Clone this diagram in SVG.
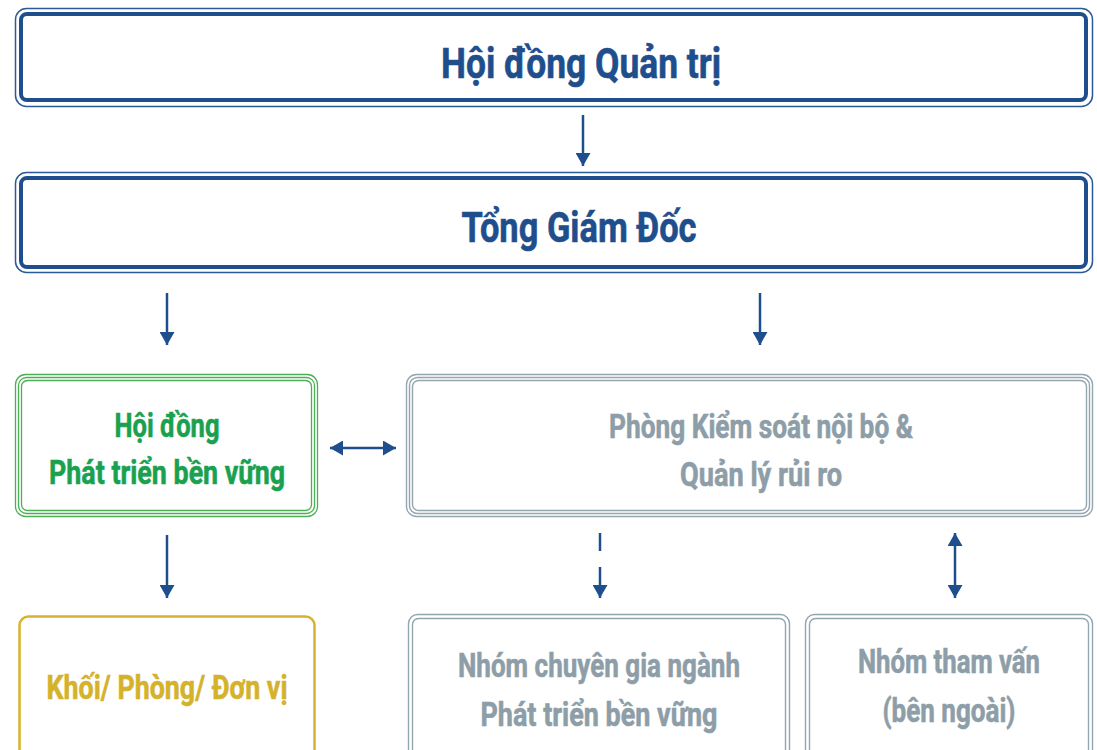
<svg xmlns="http://www.w3.org/2000/svg" width="1097" height="750" viewBox="0 0 1097 750">
<style>
text{font-family:"Roboto","Liberation Sans",sans-serif;font-weight:bold;text-anchor:middle;stroke-width:0.6}
.blue{fill:#1f4e8c;stroke:#1f4e8c}
.green{fill:#1aa150;stroke:#1aa150}
.gray{fill:#8d9ea8;stroke:#8d9ea8}
.yellow{fill:#d5b22c;stroke:#d5b22c}
.bthin{fill:none;stroke:#2a5a98;stroke-width:1.5}
.bthick{fill:none;stroke:#1f4e8c;stroke-width:4}
.gline{fill:none;stroke:#4cae55;stroke-width:1.3}
.sline{fill:none;stroke:#93a5af;stroke-width:1.4}
.conn{stroke:#1f4e8c;stroke-width:2.5;fill:none}
</style>
<defs>
<marker id="ah" viewBox="0 0 13 15" refX="13" refY="7.5" markerWidth="13" markerHeight="15" markerUnits="userSpaceOnUse" orient="auto-start-reverse">
<path d="M0,0 L13,7.5 L0,15 Z" fill="#1f4e8c"/>
</marker>
</defs>
<rect width="1097" height="750" fill="#fff"/>
<g id="hdqt">
<rect class="bthin" x="15.5" y="8.5" width="1077" height="98" rx="11"/>
<rect class="bthick" x="21" y="14" width="1065" height="86" rx="6"/>
<text class="blue" x="581" y="78" font-size="43" textLength="280" lengthAdjust="spacingAndGlyphs">Hội đồng Quản trị</text>
</g>
<g id="tgd">
<rect class="bthin" x="15.5" y="172.5" width="1077" height="100" rx="11"/>
<rect class="bthick" x="21" y="178" width="1065" height="89" rx="6"/>
<text class="blue" x="579" y="242" font-size="43" textLength="235" lengthAdjust="spacingAndGlyphs">Tổng Giám Đốc</text>
</g>
<g id="hdptbv">
<rect class="gline" x="15.5" y="374.5" width="302" height="142" rx="10"/>
<rect class="gline" x="18.5" y="377.5" width="296" height="136" rx="8"/>
<rect class="gline" x="21.5" y="380.5" width="290" height="130" rx="6"/>
<text class="green" x="167" y="437" font-size="34" textLength="105" lengthAdjust="spacingAndGlyphs">Hội đồng</text>
<text class="green" x="167" y="484" font-size="34" textLength="236" lengthAdjust="spacingAndGlyphs">Phát triển bền vững</text>
</g>
<g id="pksnb">
<rect class="sline" x="406.5" y="374.5" width="686" height="142" rx="10"/>
<rect class="sline" x="409.5" y="377.5" width="680" height="136" rx="8"/>
<rect class="sline" x="412.5" y="380.5" width="674" height="130" rx="6"/>
<text class="gray" x="761" y="438" font-size="33" textLength="304" lengthAdjust="spacingAndGlyphs">Phòng Kiểm soát nội bộ &amp;</text>
<text class="gray" x="761" y="486" font-size="33" textLength="162" lengthAdjust="spacingAndGlyphs">Quản lý rủi ro</text>
</g>
<g id="khoi">
<rect x="19.5" y="616.5" width="295" height="145" rx="9" fill="none" stroke="#d6b32e" stroke-width="2.5"/>
<text class="yellow" x="167" y="699" font-size="34" textLength="241" lengthAdjust="spacingAndGlyphs">Khối/ Phòng/ Đơn vị</text>
</g>
<g id="ncg">
<rect class="sline" x="408.5" y="614.5" width="381" height="145" rx="9"/>
<rect class="sline" x="412.5" y="618.5" width="373" height="137" rx="6"/>
<text class="gray" x="599" y="677" font-size="33" textLength="282" lengthAdjust="spacingAndGlyphs">Nhóm chuyên gia ngành</text>
<text class="gray" x="599" y="726" font-size="33" textLength="237" lengthAdjust="spacingAndGlyphs">Phát triển bền vững</text>
</g>
<g id="ntv">
<rect class="sline" x="805.5" y="614.5" width="287" height="145" rx="9"/>
<rect class="sline" x="809.5" y="618.5" width="279" height="137" rx="6"/>
<text class="gray" x="949" y="673" font-size="33" textLength="182" lengthAdjust="spacingAndGlyphs">Nhóm tham vấn</text>
<text class="gray" x="949" y="722" font-size="33" textLength="133" lengthAdjust="spacingAndGlyphs">(bên ngoài)</text>
</g>
<g id="connectors">
<line class="conn" x1="583" y1="115" x2="583" y2="166" marker-end="url(#ah)"/>
<line class="conn" x1="167" y1="293" x2="167" y2="345" marker-end="url(#ah)"/>
<line class="conn" x1="760" y1="293" x2="760" y2="345" marker-end="url(#ah)"/>
<line class="conn" x1="330" y1="448" x2="396" y2="448" marker-start="url(#ah)" marker-end="url(#ah)"/>
<line class="conn" x1="167" y1="535" x2="167" y2="598" marker-end="url(#ah)"/>
<line class="conn" x1="600" y1="533" x2="600" y2="551"/>
<line class="conn" x1="600" y1="567" x2="600" y2="598" marker-end="url(#ah)"/>
<line class="conn" x1="955" y1="533" x2="955" y2="598" marker-start="url(#ah)" marker-end="url(#ah)"/>
</g>
</svg>
